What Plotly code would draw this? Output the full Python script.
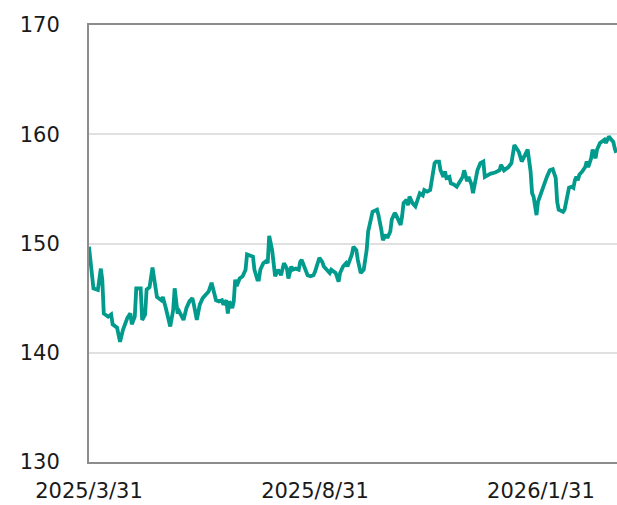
import plotly.graph_objects as go

dates = [
    "2025-03-31", "2025-04-03", "2025-04-06", "2025-04-08", "2025-04-09", "2025-04-10", "2025-04-13",
    "2025-04-15", "2025-04-16", "2025-04-19", "2025-04-21", "2025-04-23", "2025-04-26", "2025-04-28",
    "2025-04-29", "2025-05-01", "2025-05-02", "2025-05-05", "2025-05-06", "2025-05-08", "2025-05-09",
    "2025-05-11", "2025-05-13", "2025-05-15", "2025-05-16", "2025-05-19", "2025-05-20", "2025-05-22",
    "2025-05-23", "2025-05-25", "2025-05-27", "2025-05-28", "2025-05-30", "2025-05-31", "2025-06-03",
    "2025-06-05", "2025-06-07", "2025-06-09", "2025-06-10", "2025-06-12", "2025-06-14", "2025-06-16",
    "2025-06-18", "2025-06-20", "2025-06-22", "2025-06-23", "2025-06-25", "2025-06-27", "2025-06-29",
    "2025-06-30", "2025-07-02", "2025-07-03", "2025-07-04", "2025-07-06", "2025-07-07", "2025-07-08",
    "2025-07-09", "2025-07-11", "2025-07-13", "2025-07-15", "2025-07-16", "2025-07-18", "2025-07-20",
    "2025-07-21", "2025-07-23", "2025-07-24", "2025-07-25", "2025-07-27", "2025-07-29", "2025-07-30",
    "2025-07-31", "2025-08-02", "2025-08-03", "2025-08-04", "2025-08-06", "2025-08-08", "2025-08-10",
    "2025-08-12", "2025-08-13", "2025-08-15", "2025-08-16", "2025-08-18", "2025-08-20", "2025-08-21",
    "2025-08-22", "2025-08-24", "2025-08-25", "2025-08-26", "2025-08-28", "2025-08-30", "2025-08-31",
    "2025-09-02", "2025-09-03", "2025-09-05", "2025-09-06", "2025-09-08", "2025-09-10", "2025-09-11",
    "2025-09-13", "2025-09-14", "2025-09-16", "2025-09-17", "2025-09-19", "2025-09-21", "2025-09-22",
    "2025-09-25", "2025-09-26", "2025-09-28", "2025-09-29", "2025-10-01", "2025-10-03", "2025-10-05",
    "2025-10-06", "2025-10-08", "2025-10-09", "2025-10-12", "2025-10-13", "2025-10-15", "2025-10-16",
    "2025-10-18", "2025-10-19", "2025-10-21", "2025-10-22", "2025-10-24", "2025-10-25", "2025-10-27",
    "2025-10-28", "2025-10-29", "2025-10-30", "2025-11-01", "2025-11-02", "2025-11-03", "2025-11-05",
    "2025-11-07", "2025-11-08", "2025-11-10", "2025-11-12", "2025-11-13", "2025-11-15", "2025-11-17",
    "2025-11-20", "2025-11-21", "2025-11-23", "2025-11-24", "2025-11-26", "2025-11-27", "2025-11-28",
    "2025-11-30", "2025-12-01", "2025-12-03", "2025-12-05", "2025-12-06", "2025-12-08", "2025-12-09",
    "2025-12-10", "2025-12-11", "2025-12-12", "2025-12-13", "2025-12-15", "2025-12-16", "2025-12-18",
    "2025-12-19", "2025-12-21", "2025-12-23", "2025-12-24", "2025-12-26", "2025-12-28", "2025-12-31",
    "2026-01-02", "2026-01-03", "2026-01-04", "2026-01-06", "2026-01-08", "2026-01-09", "2026-01-11",
    "2026-01-12", "2026-01-13", "2026-01-15", "2026-01-16", "2026-01-18", "2026-01-20", "2026-01-21",
    "2026-01-22", "2026-01-24", "2026-01-25", "2026-01-26", "2026-01-28", "2026-01-29", "2026-01-31",
    "2026-02-02", "2026-02-04", "2026-02-06", "2026-02-08", "2026-02-10", "2026-02-11", "2026-02-12",
    "2026-02-15", "2026-02-16", "2026-02-18", "2026-02-19", "2026-02-21", "2026-02-22", "2026-02-23",
    "2026-02-24", "2026-02-25", "2026-02-26", "2026-02-28", "2026-03-02", "2026-03-03", "2026-03-04",
    "2026-03-06", "2026-03-07", "2026-03-09", "2026-03-10", "2026-03-12", "2026-03-13", "2026-03-15",
    "2026-03-16", "2026-03-18", "2026-03-19", "2026-03-21", "2026-03-22", "2026-03-23",
]

values = [
    149.7, 145.9, 145.75, 147.7, 146.7, 143.6, 143.3,
    143.5, 142.6, 142.3, 141.0, 142.1, 143.2, 143.6,
    142.6, 143.3, 145.9, 145.9, 143.0, 143.5, 145.8,
    146.0, 147.8, 146.1, 145.1, 144.8, 145.1, 144.1,
    143.5, 142.4, 143.9, 145.9, 143.6, 143.8, 143.0,
    144.1, 144.7, 145.0, 144.4, 143.0, 144.4, 145.0,
    145.3, 145.6, 146.4, 145.8, 144.8, 144.7, 144.8,
    144.4, 144.8, 143.6, 144.7, 144.1, 144.7, 146.7,
    146.1, 146.8, 147.0, 147.6, 149.0, 148.9, 148.8,
    147.6, 146.7, 146.7, 147.6, 148.2, 148.4, 148.2,
    150.7, 149.4, 148.2, 147.0, 147.6, 147.1, 148.2,
    147.7, 146.8, 147.9, 147.6, 147.7, 147.6, 148.3,
    148.5, 147.9, 147.6, 147.1, 147.0, 147.1, 147.4,
    148.5, 148.7, 148.3, 147.9, 147.6, 147.3, 147.6,
    147.4, 147.3, 146.5, 147.3, 147.9, 148.2, 147.9,
    149.0, 149.7, 149.4, 148.5, 147.3, 147.6, 149.4,
    151.1, 152.3, 152.9, 153.1, 152.6, 151.2, 150.3,
    150.8, 150.5, 151.1, 152.2, 152.8, 152.6, 152.0,
    151.7, 152.5, 153.7, 154.0, 153.5, 154.3, 153.7,
    153.4, 153.8, 154.6, 154.4, 154.9, 154.75, 154.9,
    157.35, 157.5, 157.5, 156.7, 156.1, 156.6, 156.0,
    156.1, 155.5, 155.4, 155.2, 155.4, 155.8, 156.1,
    156.7, 156.1, 155.7, 156.1, 155.4, 154.6, 155.8,
    156.7, 157.35, 157.5, 156.1, 156.3, 156.4, 156.5,
    156.6, 156.7, 157.2, 156.7, 156.9, 157.0, 157.35,
    158.3, 159.0, 158.6, 158.4, 157.5, 158.1, 158.3,
    158.6, 156.6, 154.6, 154.3, 152.6, 153.8, 154.6,
    155.2, 156.1, 156.7, 156.8, 156.0, 153.8, 153.1,
    152.9, 153.1, 154.3, 155.1, 155.2, 155.1, 155.8,
    156.1, 155.8, 156.3, 156.6, 157.0, 157.5, 157.0,
    157.8, 158.6, 157.8, 158.6, 159.2, 159.3, 159.5,
    159.2, 159.8, 159.6, 159.3, 158.7, 158.3,
]

tick_dates = ["2025-03-31", "2025-08-31", "2026-01-31"]
tick_labels = ["2025/3/31", "2025/8/31", "2026/1/31"]
y_ticks = [130, 140, 150, 160, 170]

fig = go.Figure()
fig.add_trace(go.Scatter(
    x=dates, y=values, mode="lines",
    line=dict(color="#009B8C", width=3.8),
    showlegend=False, hoverinfo="skip",
))

font = dict(family="DejaVu Sans, Verdana, sans-serif", size=21, color="#1a1a1a")

fig.update_layout(
    width=617, height=505,
    margin=dict(l=89, r=0, t=25, b=43),
    paper_bgcolor="white", plot_bgcolor="white",
    font=font,
    xaxis=dict(
        type="date", automargin=False,
        range=["2025-03-31", "2026-03-23 12:00"],
        tickvals=tick_dates, ticktext=tick_labels,
        showgrid=False, zeroline=False,
        showline=True, linecolor="#8c8c8c", linewidth=2, mirror=True,
        ticks="", ticklabelstandoff=9,
        tickfont=font,
    ),
    yaxis=dict(
        range=[130, 170], automargin=False,
        tickvals=y_ticks,
        showgrid=True, gridcolor="#e0e0e0", gridwidth=1.5,
        zeroline=False,
        showline=True, linecolor="#8c8c8c", linewidth=2,
        ticks="", ticklabelstandoff=23,
        tickfont=font,
    ),
)

fig.write_html(
    "out.html",
    config={"displayModeBar": False},
    post_script="document.body.style.margin='0';document.body.style.overflow='hidden';",
)
